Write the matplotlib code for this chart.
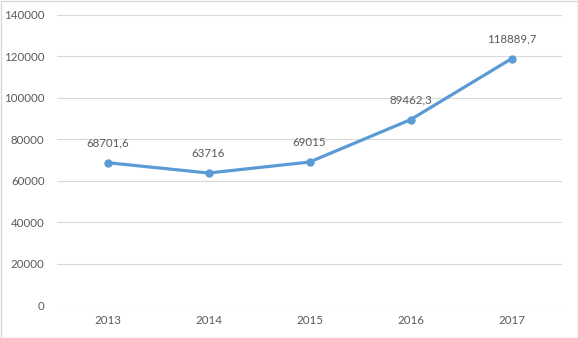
import matplotlib
matplotlib.use("Agg")
import matplotlib.pyplot as plt
from matplotlib.patches import Rectangle

years = ["2013", "2014", "2015", "2016", "2017"]
values = [68701.6, 63716, 69015, 89462.3, 118889.7]
labels = ["68701,6", "63716", "69015", "89462,3", "118889,7"]
yticks = [0, 20000, 40000, 60000, 80000, 100000, 120000, 140000]

plt.rcParams['font.family'] = ['Lato', 'DejaVu Sans']
W, H = 578, 338
fig = plt.figure(figsize=(W/100, H/100), dpi=100)
ax = fig.add_axes([57/W, 1-305/H, (562-57)/W, (305-15)/H])

x = list(range(len(years)))
ax.plot(x, values, color='#5B9BD5', lw=2.3, marker='o', ms=5, zorder=3,
        solid_capstyle='round')
for xi, v, t in zip(x, values, labels):
    ax.annotate(t, (xi, v), xytext=(0, 10), textcoords='offset points',
                ha='center', va='bottom', fontsize=8.3, color='#595959')

ax.set_xlim(-0.5, 4.5)
ax.set_ylim(0, 140000)
ax.set_yticks(yticks)
ax.set_yticklabels([str(t) for t in yticks])
ax.set_xticks(x)
ax.set_xticklabels(years)
ax.grid(axis='y', color='#D9D9D9', lw=0.8)
ax.set_axisbelow(True)
for s in ax.spines.values():
    s.set_visible(False)
ax.tick_params(length=0, labelsize=8.3, colors='#595959', pad=7)
ax.tick_params(axis='y', pad=9)

fig.patches.append(Rectangle((0.5/W, 0.5/H), 1-1/W, 1-1/H, transform=fig.transFigure,
                             fill=False, edgecolor='#D9D9D9', lw=1))
fig.savefig('out.png', dpi=100)
